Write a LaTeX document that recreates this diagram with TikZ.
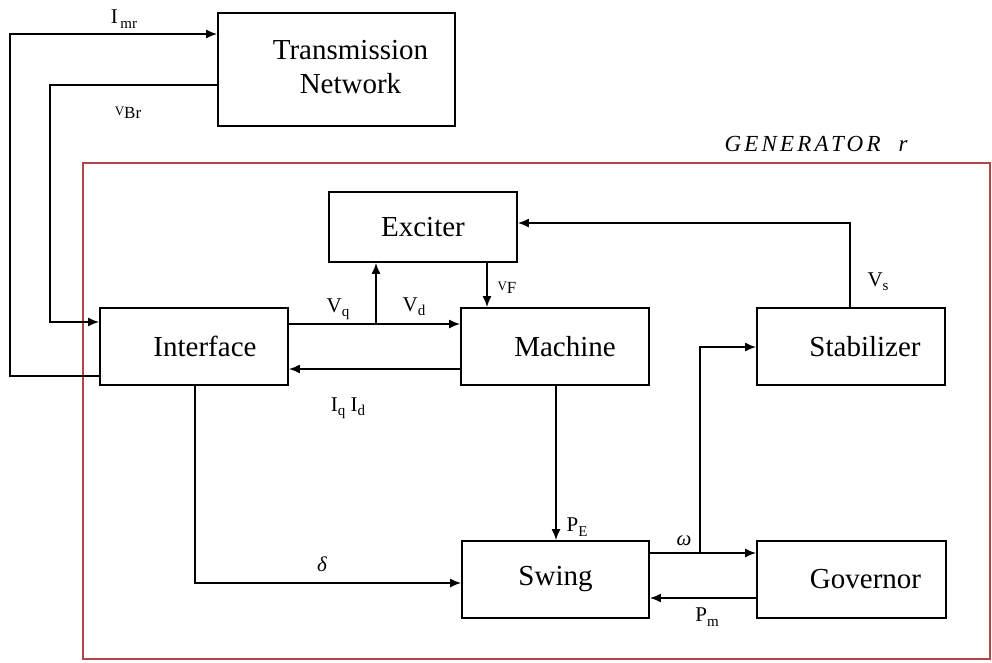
\documentclass[tikz,border=0pt]{standalone}
\usepackage{fontspec}
\setmainfont{Liberation Serif}
\newfontfamily\genfont[LetterSpace=14]{Liberation Serif}
\usetikzlibrary{arrows.meta,calc}
\definecolor{genred}{RGB}{178,70,70}
\newcommand\lbl[2]{#1\raisebox{-0.45ex}{\fontsize{15}{15}\selectfont #2}}
\newcommand\vlbl[1]{\raisebox{0.35ex}{\fontsize{13}{13}\selectfont V}{\fontsize{17}{17}\selectfont #1}}
\begin{document}
\begin{tikzpicture}[x=1pt,y=-1pt,
  blk/.style={draw, line width=1.8pt, minimum width=188pt, minimum height=77pt, inner sep=0pt, font=\fontsize{29}{34}\selectfont},
  wire/.style={line width=1.6pt},
  arr/.style={wire, -{Latex[length=11pt,width=9pt]}},
  lab/.style={font=\fontsize{21}{24}\selectfont, inner sep=0pt}]
\useasboundingbox (0,0) rectangle (992,662);
% generator frame
\node[draw=genred, line width=2pt, minimum width=907pt, minimum height=496pt, inner sep=0pt] (gen) at (536.5,411) {};
\node[inner sep=0pt, font=\genfont\itshape\fontsize{23}{26}\selectfont] (genlbl) at (816,144) {GENERATOR\ \ r};
% blocks
\node[blk, minimum width=237pt, minimum height=113pt] (tn) at (336.5,69.5) {\hspace*{28pt}\begin{tabular}{@{}c@{}}Transmission\\Network\end{tabular}};
\node[blk, minimum height=70pt] (exc) at (423,227) {Exciter};
\node[blk] (iface) at (194,346.5) {\hspace*{22pt}Interface};
\node[blk] (mach) at (555,346.5) {\hspace*{20pt}Machine};
\node[blk] (stab) at (851,346.5) {\hspace*{28pt}Stabilizer};
\node[blk, minimum width=187pt] (swing) at (555.5,579.5) {Swing};
\node[blk, minimum width=189pt] (gov) at (851.5,579.5) {\hspace*{28pt}Governor};
% connectors
\draw[arr] (iface.west |- 0,376) -| (10,34) -- (tn.west |- 0,34);
\draw[arr] (tn.west |- 0,85) -| (50,322) -- (iface.west |- 0,322);
\draw[arr] (iface.east |- 0,324) -- (mach.west |- 0,324);
\draw[arr] (376,324) -- (exc.south -| 376,0);
\draw[arr] (mach.west |- 0,369) -- (iface.east |- 0,369);
\draw[arr] (exc.south -| 487,0) -- (mach.north -| 487,0);
\draw[arr] (mach.south -| 556,0) -- (swing.north -| 556,0);
\draw[arr] (iface.south -| 195,0) |- (swing.west |- 0,583);
\draw[arr] (swing.east |- 0,553) -- (gov.west |- 0,553);
\draw[arr] (700,553) |- (stab.west |- 0,347);
\draw[arr] (gov.west |- 0,598) -- (swing.east |- 0,598);
\draw[arr] (stab.north -| 850,0) |- (exc.east |- 0,223);
% labels
\node[lab] (lImr) at (124,19) {\lbl{I}{\,mr}};
\node[lab] (lVBr) at (128,113) {\vlbl{Br}};
\node[lab] (lVq) at (338,309) {\lbl{V}{q}};
\node[lab] (lVd) at (414,307) {\lbl{V}{d}};
\node[lab] (lVF) at (507,288) {\vlbl{F}};
\node[lab] (lIqd) at (348,408) {\lbl{I}{q}\ \lbl{I}{d}};
\node[lab] (lVs) at (878,282) {\lbl{V}{s}};
\node[lab] (lPE) at (577,527) {\lbl{P}{E}};
\node[lab] (lw) at (684,541) {\itshape ω};
\node[lab] (lPm) at (707,617) {\lbl{P}{m}};
\node[lab] (ld) at (322,564) {\itshape δ};
\end{tikzpicture}
\end{document}
